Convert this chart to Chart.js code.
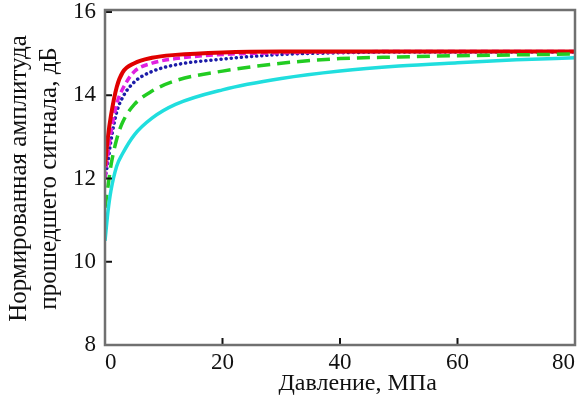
<!DOCTYPE html>
<html>
<head>
<meta charset="utf-8">
<script src="https://cdn.jsdelivr.net/npm/chart.js@4"></script>
<style>
  body { margin: 0; background: #fff; }
  #wrap { width: 580px; height: 405px; }
</style>
</head>
<body>
<div id="wrap"><canvas id="grafico"></canvas></div>
<script>
// давление, МПа
var davlenie = [0, 0.5, 1, 2, 3, 5, 8, 12, 20, 30, 40, 50, 60, 70, 80];

// нормированная амплитуда, дБ
var krasnaya = [12.3, 13.0, 13.5, 14.2, 14.55, 14.77, 14.9, 14.97, 15.03, 15.05, 15.05, 15.05, 15.05, 15.05, 15.05];
var rozovaya = [12.0, 12.6, 13.1, 13.8, 14.15, 14.57, 14.77, 14.88, 14.98, 15.02, 15.04, 15.05, 15.05, 15.05, 15.05];
var sinyaya  = [12.0, 12.4, 12.9, 13.6, 13.95, 14.32, 14.57, 14.73, 14.87, 14.98, 15.02, 15.04, 15.04, 15.04, 15.04];
var zelenaya = [11.3, 11.8, 12.3, 12.95, 13.35, 13.78, 14.1, 14.35, 14.58, 14.77, 14.88, 14.92, 14.95, 14.97, 14.99];
var goluboy  = [10.5, 11.2, 11.7, 12.3, 12.6, 13.05, 13.45, 13.78, 14.13, 14.4, 14.58, 14.7, 14.78, 14.85, 14.9];

var ticksX = [0, 20, 40, 60, 80];
var ticksY = [8, 10, 12, 14, 16];
var tituloX = 'Давление, МПа';

function pontos(valores){
    return davlenie.map(function(x, i){ return {x: x, y: valores[i]}; });
}

function serie(valores, cor, largura, tracejado, ponta){
    return {
        data: pontos(valores),
        borderColor: cor,
        borderWidth: largura,
        borderDash: tracejado,
        borderCapStyle: ponta || 'butt',
        pointRadius: 0,
        fill: false,
        cubicInterpolationMode: 'monotone'
    };
}

var familia = '"Liberation Serif", "DejaVu Serif", serif';
var fonte = { family: familia, size: 23 };

// рамка, внутренние засечки и подпись оси X
var moldura = {
    id: 'moldura',
    afterDraw: function(chart){
        var c = chart.ctx, a = chart.chartArea;
        var sx = chart.scales.x, sy = chart.scales.y;
        c.save();
        c.strokeStyle = '#111';
        c.lineWidth = 2;
        ticksX.forEach(function(v){
            var px = sx.getPixelForValue(v);
            c.beginPath(); c.moveTo(px, a.bottom); c.lineTo(px, a.bottom - 7); c.stroke();
        });
        ticksY.forEach(function(v){
            var py = sy.getPixelForValue(v);
            c.beginPath(); c.moveTo(a.left, py); c.lineTo(a.left + 7, py); c.stroke();
        });
        c.strokeStyle = '#707070';
        c.lineWidth = 2.5;
        c.strokeRect(a.left, a.top - 2, a.right - a.left, a.bottom - a.top + 2);

        c.fillStyle = '#111';
        c.font = '24px ' + familia;
        c.textAlign = 'center';
        c.textBaseline = 'middle';
        c.fillText(tituloX, sx.getPixelForValue(43), 384);
        c.restore();
    }
};

new Chart(document.getElementById('grafico'), {
    type: 'line',
    data: {
        datasets: [
            serie(goluboy, '#20dede', 3.5, []),
            serie(zelenaya, '#22cc22', 3.5, [13, 7]),
            serie(krasnaya, '#e00000', 4, []),
            serie(rozovaya, '#e020e0', 3.5, [7, 4]),
            serie(sinyaya, '#1c1ca8', 3.5, [0.1, 5], 'round')
        ]
    },
    options: {
        responsive: true,
        maintainAspectRatio: false,
        animation: false,
        layout: { padding: 0 },
        plugins: { legend: { display: false }, tooltip: { enabled: false } },
        scales: {
            x: {
                type: 'linear',
                min: 0, max: 80,
                afterBuildTicks: function(s){ s.ticks = ticksX.map(function(v){ return {value: v}; }); },
                grid: { display: false, drawTicks: false },
                border: { display: false },
                ticks: { color: '#111', font: fonte, padding: 4, maxRotation: 0, align: 'inner' },
                afterFit: function(s){ s.height = 60; s.paddingRight = 5; s.paddingLeft = 0; }
            },
            y: {
                min: 8, max: 16,
                afterBuildTicks: function(s){ s.ticks = ticksY.map(function(v){ return {value: v}; }); },
                grid: { display: false, drawTicks: false },
                border: { display: false },
                ticks: { color: '#111', font: fonte, padding: 9 },
                title: {
                    display: true,
                    text: ['Нормированная амплитуда', 'прошедшего сигнала, дБ'],
                    color: '#111',
                    font: { family: familia, size: 25, lineHeight: 1.2 },
                    padding: { top: 4, bottom: 0 }
                },
                afterFit: function(s){ s.width = 105; s.paddingTop = 12; s.paddingBottom = 0; }
            }
        }
    },
    plugins: [moldura]
});
</script>
</body>
</html>
